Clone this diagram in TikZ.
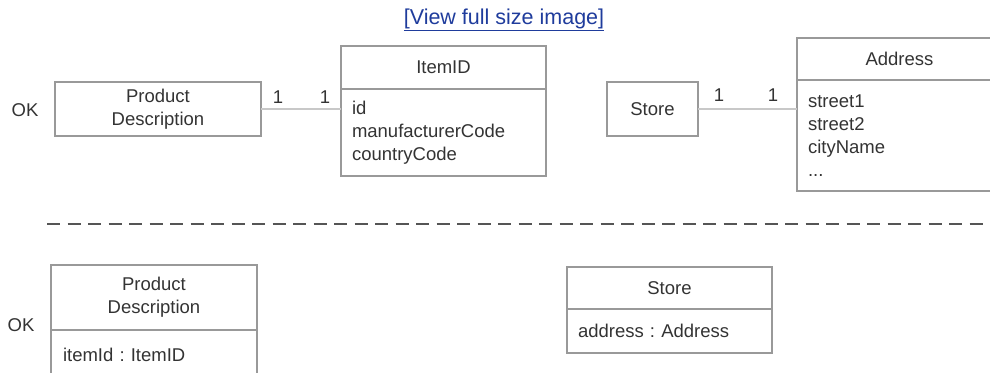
\documentclass[tikz,border=0pt]{standalone}
\usepackage{fontspec}
\setmainfont{Liberation Sans}
\frenchspacing
\usetikzlibrary{positioning}
\definecolor{umlgray}{HTML}{999999}
\definecolor{umltext}{HTML}{333333}
\definecolor{umlline}{HTML}{C8C8C8}
\definecolor{umldash}{HTML}{555555}
\definecolor{linkblue}{HTML}{1F3C9C}

\begin{document}
\begin{tikzpicture}[x=1pt, y=-1pt,
  every node/.style={font=\fontsize{18.5}{23}\selectfont, text=umltext},
  classbox/.style={draw=umlgray, line width=1.2pt, rectangle, outer sep=0pt, minimum width=205pt},
  attrbox/.style={classbox, inner xsep=11pt, text width=183pt, align=left},
  openbox/.style={draw=none},
  assoc/.style={draw=umlline, line width=1.5pt}]
  \useasboundingbox (0,0) rectangle (990,372);

  % Link
  \node[text=linkblue, font=\fontsize{21.5}{24}\selectfont] (link) at (504,20) {\underline{[View full size image]}};

  % Association version
  \node (ok1) at (25,110) {OK};
  \node[classbox, minimum width=206pt, minimum height=54pt, align=center] (desc) at (158,109) {Product\\Description};
  \node[classbox, minimum height=43pt] (itemid) at (443.5,67.5) {ItemID};
  \node[attrbox, minimum height=87pt, below=0pt of itemid] (itemidattr) {id\\manufacturerCode\\countryCode};
  \draw[assoc] (desc.east) -- (desc.east -| itemidattr.west);
  \node (m1) at (278,97) {1};
  \node (m2) at (325,97) {1};

  \node[classbox, minimum width=91pt, minimum height=54pt] (store) at (652.5,109) {Store};
  \node[classbox, openbox, minimum width=230pt, minimum height=42pt] (address) at (912,59) {\hspace*{-25pt}Address};
  \node[attrbox, openbox, text width=208pt, minimum height=111pt, below=0pt of address] (addressattr) {street1\\street2\\cityName\\...};
  % box cut off at the right side
  \draw[umlgray, line width=1.2pt] (address.north east) -- (address.north west) -- (addressattr.south west) -- (addressattr.south east);
  \draw[umlgray, line width=1.2pt] (address.south west) -- (address.south east);
  \draw[assoc] (store.east) -- (store.east -| addressattr.west);
  \node (m3) at (719,95) {1};
  \node (m4) at (773,95) {1};

  % Separator
  \draw[umldash, line width=2pt, dash pattern=on 13pt off 7.5pt] (47,224) -- (1010,224);

  % Attribute version
  \node (ok2) at (21,325) {OK};
  \node[classbox, minimum width=206pt, minimum height=65pt, align=center] (desc2) at (154,297.5) {Product\\Description};
  \node[attrbox, text width=182pt, inner xsep=12pt, minimum height=50pt, below=0pt of desc2] (desc2attr) {itemId : ItemID};

  \node[classbox, minimum height=42pt] (store2) at (669.5,288) {Store};
  \node[attrbox, minimum height=44pt, below=0pt of store2] (store2attr) {address : Address};
\end{tikzpicture}
\end{document}
